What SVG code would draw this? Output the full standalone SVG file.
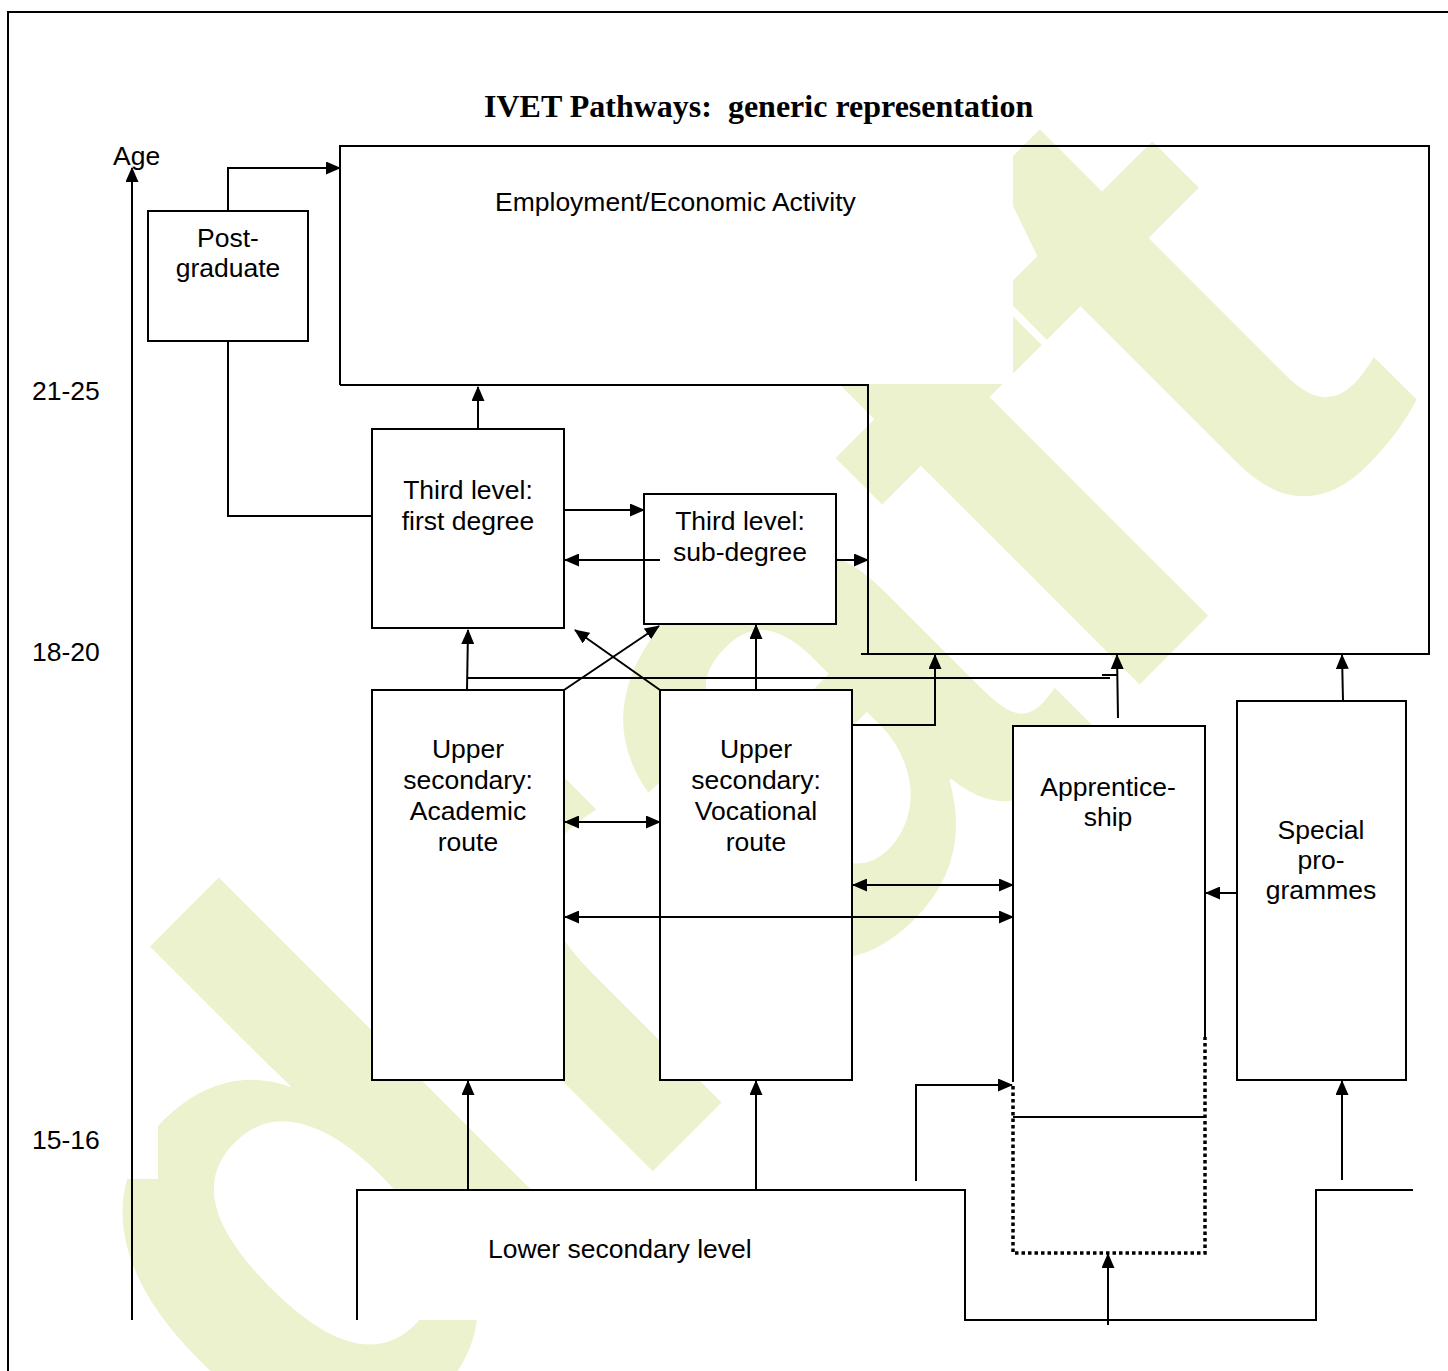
<svg xmlns="http://www.w3.org/2000/svg" width="1448" height="1371" viewBox="0 0 1448 1371">
<style>
.lbl{font-family:"Liberation Sans",Arial,sans-serif;font-size:26.5px;fill:#000}
.mid{text-anchor:middle}
.box{fill:#fff;stroke:#000;stroke-width:2}
.ln{fill:none;stroke:#000;stroke-width:2}
.arr{fill:none;stroke:#000;stroke-width:2;marker-end:url(#ah)}
.dbl{fill:none;stroke:#000;stroke-width:2;marker-end:url(#ah);marker-start:url(#ah)}
.dot{fill:none;stroke:#000;stroke-width:3.5;stroke-dasharray:3.5 3}
.mask{fill:#fff}
</style>
<defs>
<marker id="ah" markerUnits="userSpaceOnUse" viewBox="0 0 15 13" markerWidth="15" markerHeight="13" refX="14" refY="6.5" orient="auto-start-reverse">
<path d="M0,0 L15,6.5 L0,13 Z" fill="#000"/>
</marker>
</defs>
<rect width="1448" height="1371" fill="#fff"/>
<g id="watermark">
<text transform="translate(311,1513) rotate(-45)" font-family="'Liberation Sans',Arial,sans-serif" font-weight="bold" font-size="710" fill="#EDF2CE">draft</text>
</g>
<g id="frame">
<path class="ln" d="M8,1371 V12 H1448"/>
</g>
<g id="age-axis">
<rect class="mask" x="10" y="1100" width="148" height="79"/>
<text class="lbl" x="113" y="165">Age</text>
<text class="lbl" x="32" y="400">21-25</text>
<text class="lbl" x="32" y="661">18-20</text>
<text class="lbl" x="32" y="1149">15-16</text>
</g>
<g id="employment">
<rect class="mask" x="340" y="100" width="673" height="284"/>
<path class="ln" d="M340,385 V146 H1429 V654 H861 M868,654 V385 H340"/>
<text class="lbl" x="495" y="211">Employment/Economic Activity</text>
</g>
<g id="title">
<text x="484" y="117" font-family="'Liberation Serif','Times New Roman',serif" font-weight="bold" font-size="32">IVET Pathways:&#160; generic representation</text>
</g>
<g id="postgraduate">
<rect class="box" x="148" y="211" width="160" height="130"/>
<text class="lbl mid" x="228" y="247">Post-</text>
<text class="lbl mid" x="228" y="277">graduate</text>
</g>
<g id="third-first">
<rect class="box" x="372" y="429" width="192" height="199"/>
<text class="lbl mid" x="468" y="499">Third level:</text>
<text class="lbl mid" x="468" y="530">first degree</text>
</g>
<g id="third-sub">
<rect class="box" x="644" y="494" width="192" height="130"/>
<text class="lbl mid" x="740" y="530">Third level:</text>
<text class="lbl mid" x="740" y="561">sub-degree</text>
</g>
<g id="upper-academic">
<rect class="box" x="372" y="690" width="192" height="390"/>
<text class="lbl mid" x="468" y="758">Upper</text>
<text class="lbl mid" x="468" y="789">secondary:</text>
<text class="lbl mid" x="468" y="820">Academic</text>
<text class="lbl mid" x="468" y="851">route</text>
</g>
<g id="upper-vocational">
<rect class="box" x="660" y="690" width="192" height="390"/>
<text class="lbl mid" x="756" y="758">Upper</text>
<text class="lbl mid" x="756" y="789">secondary:</text>
<text class="lbl mid" x="756" y="820">Vocational</text>
<text class="lbl mid" x="756" y="851">route</text>
</g>
<g id="apprenticeship">
<rect class="mask" x="1013" y="726" width="192" height="391"/>
<path class="ln" d="M1013,1082 V726 H1205 V1037 M1013,1117 H1205"/>
<path class="dot" d="M1013,1086 V1253 H1205 V1037"/>
<text class="lbl mid" x="1108" y="796">Apprentice-</text>
<text class="lbl mid" x="1108" y="826">ship</text>
</g>
<g id="special">
<rect class="box" x="1237" y="701" width="169" height="379"/>
<text class="lbl mid" x="1321" y="839">Special</text>
<text class="lbl mid" x="1321" y="869">pro-</text>
<text class="lbl mid" x="1321" y="899">grammes</text>
</g>
<g id="lower-secondary">
<rect class="mask" x="357" y="1190" width="608" height="130"/>
<path class="ln" d="M357,1320 V1190 H965 V1320 H1316 V1190 H1413"/>
<text class="lbl" x="488" y="1258">Lower secondary level</text>
</g>
<g id="connectors">
<path class="arr" d="M132,1320 V168"/>
<path class="arr" d="M228,211 V168 H340"/>
<path class="ln" d="M228,341 V516 H372"/>
<path class="arr" d="M478,429 V387"/>
<path class="arr" d="M564,510 H644"/>
<path class="arr" d="M660,560 H565"/>
<path class="arr" d="M836,560 H868"/>
<path class="arr" d="M467,690 L468,630"/>
<path class="ln" d="M467,678 H1110 M1102,675 H1117"/>
<path class="arr" d="M1118,718 L1117,655"/>
<path class="arr" d="M660,690 L575,630"/>
<path class="arr" d="M564,690 L659,626"/>
<path class="arr" d="M756,690 V625"/>
<path class="arr" d="M852,725 H935 V655"/>
<path class="dbl" d="M565,822 H660"/>
<path class="dbl" d="M853,885 H1013"/>
<path class="dbl" d="M565,917 H1013"/>
<path class="arr" d="M1343,701 L1342,655"/>
<path class="arr" d="M1237,893 H1206"/>
<path class="arr" d="M468,1190 V1081"/>
<path class="arr" d="M756,1190 V1081"/>
<path class="arr" d="M916,1181 V1085 H1012"/>
<path class="arr" d="M1108,1325 V1254"/>
<path class="arr" d="M1342,1180 V1081"/>
</g>
</svg>
